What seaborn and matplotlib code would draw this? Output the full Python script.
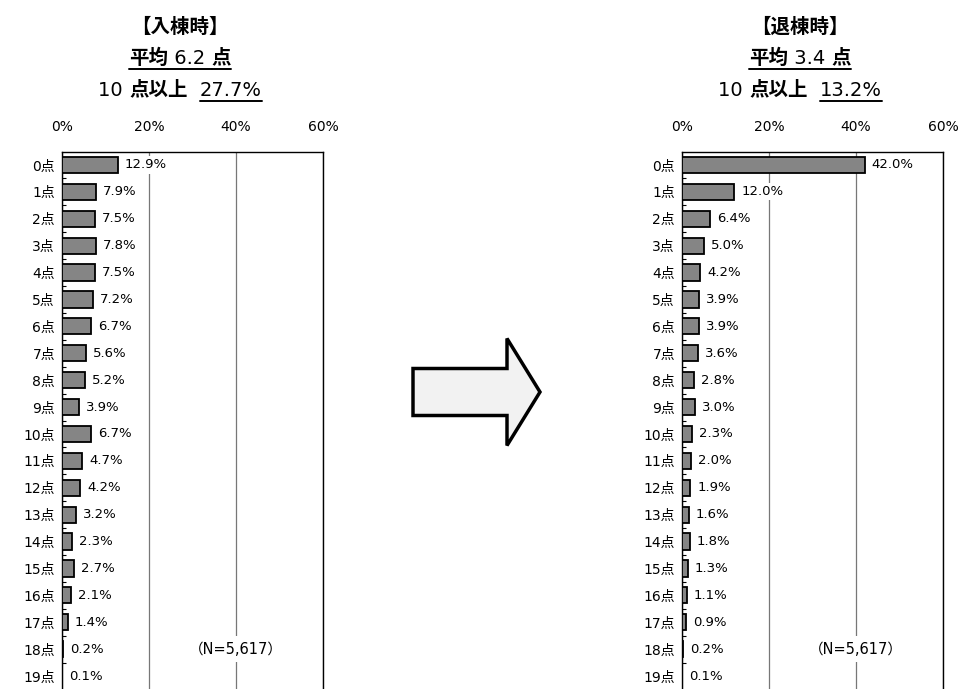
import numpy as np
import pandas as pd
import matplotlib
matplotlib.use("Agg")
import matplotlib.pyplot as plt
import matplotlib.patches as mpatches
from matplotlib.lines import Line2D
import seaborn as sns

# ── Data ──────────────────────────────────────────
categories = [f"{i}点" for i in range(20)]
admit_pct = [12.9, 7.9, 7.5, 7.8, 7.5, 7.2, 6.7, 5.6, 5.2, 3.9,
             6.7, 4.7, 4.2, 3.2, 2.3, 2.7, 2.1, 1.4, 0.2, 0.1]
discharge_pct = [42.0, 12.0, 6.4, 5.0, 4.2, 3.9, 3.9, 3.6, 2.8, 3.0,
                 2.3, 2.0, 1.9, 1.6, 1.8, 1.3, 1.1, 0.9, 0.2, 0.1]
panel_titles = ["【入棟時】", "【退棟時】"]
mean_scores = ["6.2", "3.4"]
over10_pct = ["27.7%", "13.2%"]
n_label = "（N=5,617）"
x_ticks = [0, 20, 40, 60]

sns.set_style("white")
# DejaVu first: wider digits like the original; CJK glyphs fall back to Noto
plt.rcParams["font.family"] = ["DejaVu Sans", "Noto Sans CJK JP"]
plt.rcParams["text.color"] = "black"
plt.rcParams["xtick.color"] = "black"
plt.rcParams["ytick.color"] = "black"

W, H = 963, 689
fig = plt.figure(figsize=(W / 100, H / 100), dpi=100)
renderer = fig.canvas.get_renderer()


def draw_panel(left_px, values):
    ax = fig.add_axes([left_px / W, 0.0, 261 / W, 1 - 152 / H])
    df = pd.DataFrame({"cat": categories, "pct": values})
    sns.barplot(data=df, x="pct", y="cat", order=categories, ax=ax,
                color="#858585", saturation=1, edgecolor="black",
                linewidth=1.3, width=0.6, zorder=3)
    ax.set_xlim(0, 60)
    ax.set_ylim(19.48, -0.48)
    ax.set_xlabel("")
    ax.set_ylabel("")
    ax.set_xticks(x_ticks)
    ax.set_xticklabels([f"{t}%" for t in x_ticks])
    ax.xaxis.tick_top()
    ax.tick_params(axis="x", length=0, pad=13, labelsize=10)
    ax.tick_params(axis="y", length=0, pad=5, labelsize=10)
    ax.set_yticks(np.arange(0.5, 19.5, 1), minor=True)
    ax.tick_params(axis="y", which="minor", direction="in", length=3,
                   width=0.8, left=True)
    ax.xaxis.grid(True, color="#777777", lw=0.9)
    ax.set_axisbelow(True)
    for side in ["top", "left", "right"]:
        ax.spines[side].set_visible(True)
        ax.spines[side].set_color("black")
        ax.spines[side].set_linewidth(1.0)
    ax.spines["bottom"].set_visible(False)
    labels = ax.bar_label(ax.containers[0], labels=[f"{v:.1f}%" for v in values],
                          padding=5, fontsize=9.5, color="black")
    for t in labels:
        t.set_bbox(dict(facecolor="white", edgecolor="none", pad=1.5))
        t.set_zorder(5)
    ax.text(40, 18, n_label, ha="center", va="center", fontsize=10.5,
            bbox=dict(facecolor="white", edgecolor="none", pad=4), zorder=5)
    return ax


def title_line(xc, yc, segs, size=14):
    texts = []
    for s, bold, ul in segs:
        t = fig.text(0, 1 - yc / H, s, fontsize=size,
                     fontweight="bold" if bold else "normal",
                     ha="left", va="center")
        texts.append((t, ul))
    widths = [t.get_window_extent(renderer).width for t, _ in texts]
    x = xc - sum(widths) / 2
    for (t, ul), w in zip(texts, widths):
        t.set_x(x / W)
        if ul:
            fig.add_artist(Line2D([x / W, (x + w) / W], [1 - (yc + 11) / H] * 2,
                                  color="black", lw=1.4))
        x += w


draw_panel(62, admit_pct)
draw_panel(682, discharge_pct)

for xc, ttl, mean, pct in zip([180, 800], panel_titles, mean_scores, over10_pct):
    title_line(xc, 27, [(ttl, True, False)])
    title_line(xc, 58, [("平均", True, True), (f" {mean} ", False, True),
                        ("点", True, True)])
    title_line(xc, 90, [("10 ", False, False), ("点以上", True, False),
                        ("  ", False, False), (pct, False, True)])

# ── Arrow between panels ─────────────────────────
arrow = mpatches.FancyArrow(413 / W, 1 - 392 / H, 127 / W, 0,
                            width=47 / H, head_width=107 / H,
                            head_length=33 / W, length_includes_head=True,
                            facecolor="#f2f2f2", edgecolor="black", lw=2.5,
                            transform=fig.transFigure)
fig.add_artist(arrow)

fig.savefig("out.png", dpi=100)
